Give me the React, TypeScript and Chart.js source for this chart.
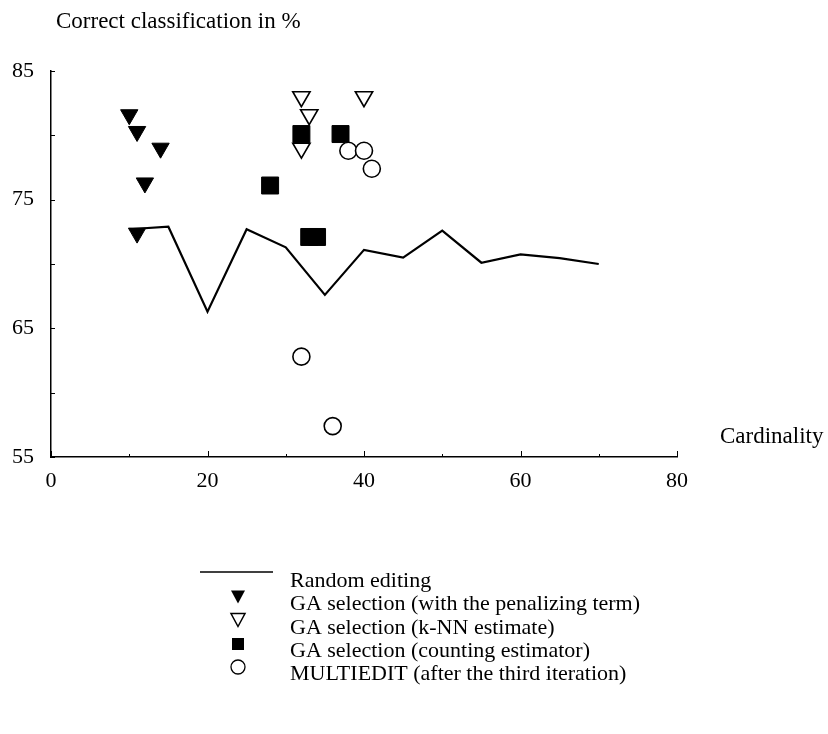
import React, { useEffect, useRef } from 'react';
import { Chart, registerables } from 'chart.js';

Chart.register(...registerables);

// ---- data ----
const randomX = [10, 15, 20, 25, 30, 35, 40, 45, 50, 55, 60, 65, 70];
const randomY = [72.7, 72.9, 66.3, 72.7, 71.3, 67.6, 71.1, 70.5, 72.6, 70.1, 70.75, 70.45, 70.0];

const penX = [10, 11, 14, 12, 11];
const penY = [81.6, 80.3, 79.0, 76.3, 72.4];

const knnX = [32, 33, 32, 40];
const knnY = [83.0, 81.6, 79.0, 83.0];

const cntX = [32, 37, 28, 33, 34];
const cntY = [80.1, 80.1, 76.1, 72.1, 72.1];

const meX = [38, 40, 41, 32, 36];
const meY = [78.8, 78.8, 77.4, 62.8, 57.4];

const xMinorTicks = [0, 10, 20, 30, 40, 50, 60, 70, 80];
const yMinorTicks = [55, 60, 65, 70, 75, 80, 85];

const yTitle = 'Correct classification in %';
const xTitle = 'Cardinality';
const legendLabels = [
  'Random editing',
  'GA selection (with the penalizing term)',
  'GA selection (k-NN estimate)',
  'GA selection (counting estimator)',
  'MULTIEDIT (after the third iteration)',
];

const FONT = "'Liberation Serif', 'Times New Roman', serif";

const toPts = (xs: number[], ys: number[]) => xs.map((x, i) => ({ x, y: ys[i] }));

const decoPlugin = {
  id: 'deco',
  afterDraw(chart: any) {
    const ctx: CanvasRenderingContext2D = chart.ctx;
    const xs = chart.scales.x;
    const ys = chart.scales.y;
    ctx.save();
    ctx.strokeStyle = '#000';
    ctx.lineWidth = 1;
    xMinorTicks.forEach((v) => {
      const px = Math.round(xs.getPixelForValue(v)) + 0.5;
      const len = v % 20 === 0 ? 6 : 3;
      ctx.beginPath();
      ctx.moveTo(px, ys.bottom);
      ctx.lineTo(px, ys.bottom - len);
      ctx.stroke();
    });
    yMinorTicks.forEach((v) => {
      const py = Math.round(ys.getPixelForValue(v)) + 0.5;
      ctx.beginPath();
      ctx.moveTo(xs.left, py);
      ctx.lineTo(xs.left + 4, py);
      ctx.stroke();
    });

    ctx.fillStyle = '#000';
    ctx.textBaseline = 'middle';
    ctx.textAlign = 'left';
    ctx.font = `23px ${FONT}`;
    ctx.fillText(yTitle, 56, 22);
    ctx.fillText(xTitle, 720, 437);

    const rowY = [580, 603, 627, 650, 673];
    const mx = 238;
    const tx = 290;
    ctx.font = `22px ${FONT}`;
    legendLabels.forEach((t, i) => ctx.fillText(t, tx, rowY[i] + 1));
    ctx.lineWidth = 1.5;
    ctx.beginPath();
    ctx.moveTo(200, 572);
    ctx.lineTo(273, 572);
    ctx.stroke();
    const tri = (cy: number, fill: boolean) => {
      const w = 14, h = 13;
      ctx.beginPath();
      ctx.moveTo(mx - w / 2, cy - h / 2);
      ctx.lineTo(mx + w / 2, cy - h / 2);
      ctx.lineTo(mx, cy + h / 2);
      ctx.closePath();
      if (fill) ctx.fill();
      else {
        ctx.lineWidth = 1.5;
        ctx.stroke();
      }
    };
    tri(rowY[0] + 17, true);
    tri(rowY[1] + 17, false);
    ctx.fillRect(mx - 6, rowY[2] + 17 - 6, 12, 12);
    ctx.lineWidth = 1.3;
    ctx.beginPath();
    ctx.arc(mx, rowY[3] + 17, 7, 0, Math.PI * 2);
    ctx.stroke();
    ctx.restore();
  },
};

export default function App() {
  const ref = useRef<HTMLCanvasElement | null>(null);
  useEffect(() => {
    document.body.style.margin = '0';
    const canvas = ref.current;
    if (!canvas) return;
    const chart = new Chart(canvas, {
      type: 'scatter',
      data: {
        datasets: [
          {
            type: 'line',
            label: legendLabels[0],
            data: toPts(randomX, randomY),
            borderColor: '#000',
            borderWidth: 2.2,
            pointRadius: 0,
            fill: false,
            tension: 0,
            order: 5,
          } as any,
          {
            label: legendLabels[1],
            data: toPts(penX, penY),
            pointStyle: 'triangle',
            rotation: 180,
            pointRadius: 10,
            backgroundColor: '#000',
            borderColor: '#000',
            borderWidth: 1,
            order: 4,
          },
          {
            label: legendLabels[2],
            data: toPts(knnX, knnY),
            pointStyle: 'triangle',
            rotation: 180,
            pointRadius: 10,
            backgroundColor: '#fff',
            borderColor: '#000',
            borderWidth: 1.6,
            order: 3,
          },
          {
            label: legendLabels[3],
            data: toPts(cntX, cntY),
            pointStyle: 'rect',
            pointRadius: 12,
            backgroundColor: '#000',
            borderColor: '#000',
            borderWidth: 1,
            order: 2,
          },
          {
            label: legendLabels[4],
            data: toPts(meX, meY),
            pointStyle: 'circle',
            pointRadius: 8.5,
            backgroundColor: '#fff',
            borderColor: '#000',
            borderWidth: 1.6,
            order: 1,
          },
        ],
      },
      options: {
        responsive: false,
        animation: false,
        events: [],
        layout: { padding: { left: 0, top: 71, right: 151, bottom: 237 } },
        plugins: { legend: { display: false }, tooltip: { enabled: false } },
        scales: {
          x: {
            type: 'linear',
            min: 0,
            max: 80,
            afterFit: (s: any) => {
              s.height = 40;
            },
            ticks: { stepSize: 20, color: '#000', font: { family: FONT, size: 22 }, padding: 11, maxRotation: 0 },
            grid: { display: false, drawTicks: false },
            border: { display: true, color: '#000', width: 1.5 },
          },
          y: {
            type: 'linear',
            min: 55,
            max: 85,
            afterFit: (s: any) => {
              s.width = 51;
            },
            ticks: { stepSize: 10, color: '#000', font: { family: FONT, size: 22 }, padding: 17 },
            grid: { display: false, drawTicks: false },
            border: { display: true, color: '#000', width: 1.5 },
          },
        },
      },
      plugins: [decoPlugin],
    });
    return () => chart.destroy();
  }, []);
  return (
    <div style={{ width: 828, height: 734, background: '#fff' }}>
      <canvas ref={ref} width={828} height={734} />
    </div>
  );
}
